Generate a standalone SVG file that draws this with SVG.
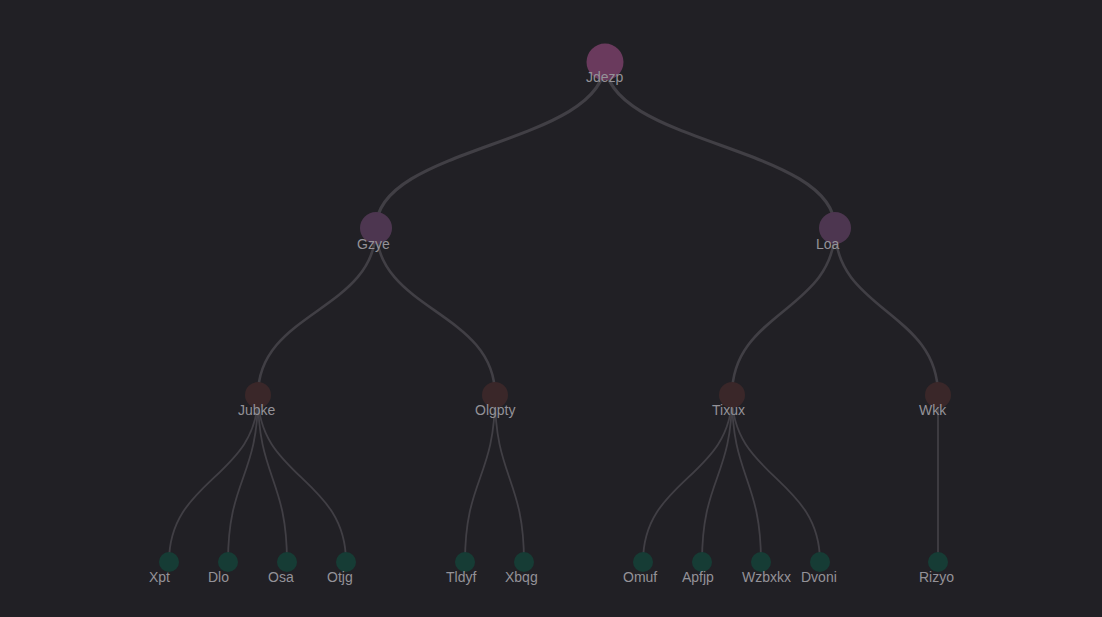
<svg xmlns="http://www.w3.org/2000/svg" width="1102" height="617" viewBox="0 0 1102 617">
<style>
.bg{fill:#212025}
.e{fill:none;stroke:#413f45;stroke-linecap:round}
.e0{stroke-width:3.2}
.e1{stroke-width:2.6}
.e2{stroke-width:1.8}
.lbl{font-family:"Liberation Sans",Arial,sans-serif;font-size:14px;fill:#949298}
.n0{fill:#6a3a5d}
.n1{fill:#4d3650}
.n2{fill:#3a2729}
.n3{fill:#163c35}
</style>
<rect class="bg" x="0" y="0" width="1102" height="617"/>
<g id="connectors">
<path class="e e0" d="M605,62C605,145 376,145 376,228"/>
<path class="e e0" d="M605,62C605,145 835,145 835,228"/>
<path class="e e1" d="M376,228C376,311 258,311 258,395"/>
<path class="e e1" d="M376,228C376,311 495,311 495,395"/>
<path class="e e1" d="M835,228C835,311 732,311 732,395"/>
<path class="e e1" d="M835,228C835,311 938,311 938,395"/>
<path class="e e2" d="M258,395C258,478 169,478 169,562"/>
<path class="e e2" d="M258,395C258,478 228,478 228,562"/>
<path class="e e2" d="M258,395C258,478 287,478 287,562"/>
<path class="e e2" d="M258,395C258,478 346,478 346,562"/>
<path class="e e2" d="M495,395C495,478 465,478 465,562"/>
<path class="e e2" d="M495,395C495,478 524,478 524,562"/>
<path class="e e2" d="M732,395C732,478 643,478 643,562"/>
<path class="e e2" d="M732,395C732,478 702,478 702,562"/>
<path class="e e2" d="M732,395C732,478 761,478 761,562"/>
<path class="e e2" d="M732,395C732,478 820,478 820,562"/>
<path class="e e2" d="M938,395C938,478 938,478 938,562"/>
</g>
<g id="node-jdezp"><circle class="n0" cx="605" cy="62" r="18.5"/><text class="lbl" x="586" y="82">Jdezp</text></g>
<g id="node-gzye"><circle class="n1" cx="376" cy="228" r="16"/><text class="lbl" x="357" y="249">Gzye</text></g>
<g id="node-loa"><circle class="n1" cx="835" cy="228" r="16"/><text class="lbl" x="816" y="249">Loa</text></g>
<g id="node-jubke"><circle class="n2" cx="258" cy="395" r="13"/><text class="lbl" x="238" y="415">Jubke</text></g>
<g id="node-olgpty"><circle class="n2" cx="495" cy="395" r="13"/><text class="lbl" x="475" y="415">Olgpty</text></g>
<g id="node-tixux"><circle class="n2" cx="732" cy="395" r="13"/><text class="lbl" x="712" y="415">Tixux</text></g>
<g id="node-wkk"><circle class="n2" cx="938" cy="395" r="13"/><text class="lbl" x="919" y="415">Wkk</text></g>
<g id="node-xpt"><circle class="n3" cx="169" cy="562" r="10"/><text class="lbl" x="149" y="582">Xpt</text></g>
<g id="node-dlo"><circle class="n3" cx="228" cy="562" r="10"/><text class="lbl" x="208" y="582">Dlo</text></g>
<g id="node-osa"><circle class="n3" cx="287" cy="562" r="10"/><text class="lbl" x="268" y="582">Osa</text></g>
<g id="node-otjg"><circle class="n3" cx="346" cy="562" r="10"/><text class="lbl" x="327" y="582">Otjg</text></g>
<g id="node-tldyf"><circle class="n3" cx="465" cy="562" r="10"/><text class="lbl" x="446" y="582">Tldyf</text></g>
<g id="node-xbqg"><circle class="n3" cx="524" cy="562" r="10"/><text class="lbl" x="505" y="582">Xbqg</text></g>
<g id="node-omuf"><circle class="n3" cx="643" cy="562" r="10"/><text class="lbl" x="623" y="582">Omuf</text></g>
<g id="node-apfjp"><circle class="n3" cx="702" cy="562" r="10"/><text class="lbl" x="682" y="582">Apfjp</text></g>
<g id="node-wzbxkx"><circle class="n3" cx="761" cy="562" r="10"/><text class="lbl" x="742" y="582">Wzbxkx</text></g>
<g id="node-dvoni"><circle class="n3" cx="820" cy="562" r="10"/><text class="lbl" x="801" y="582">Dvoni</text></g>
<g id="node-rizyo"><circle class="n3" cx="938" cy="562" r="10"/><text class="lbl" x="919" y="582">Rizyo</text></g>
</svg>
